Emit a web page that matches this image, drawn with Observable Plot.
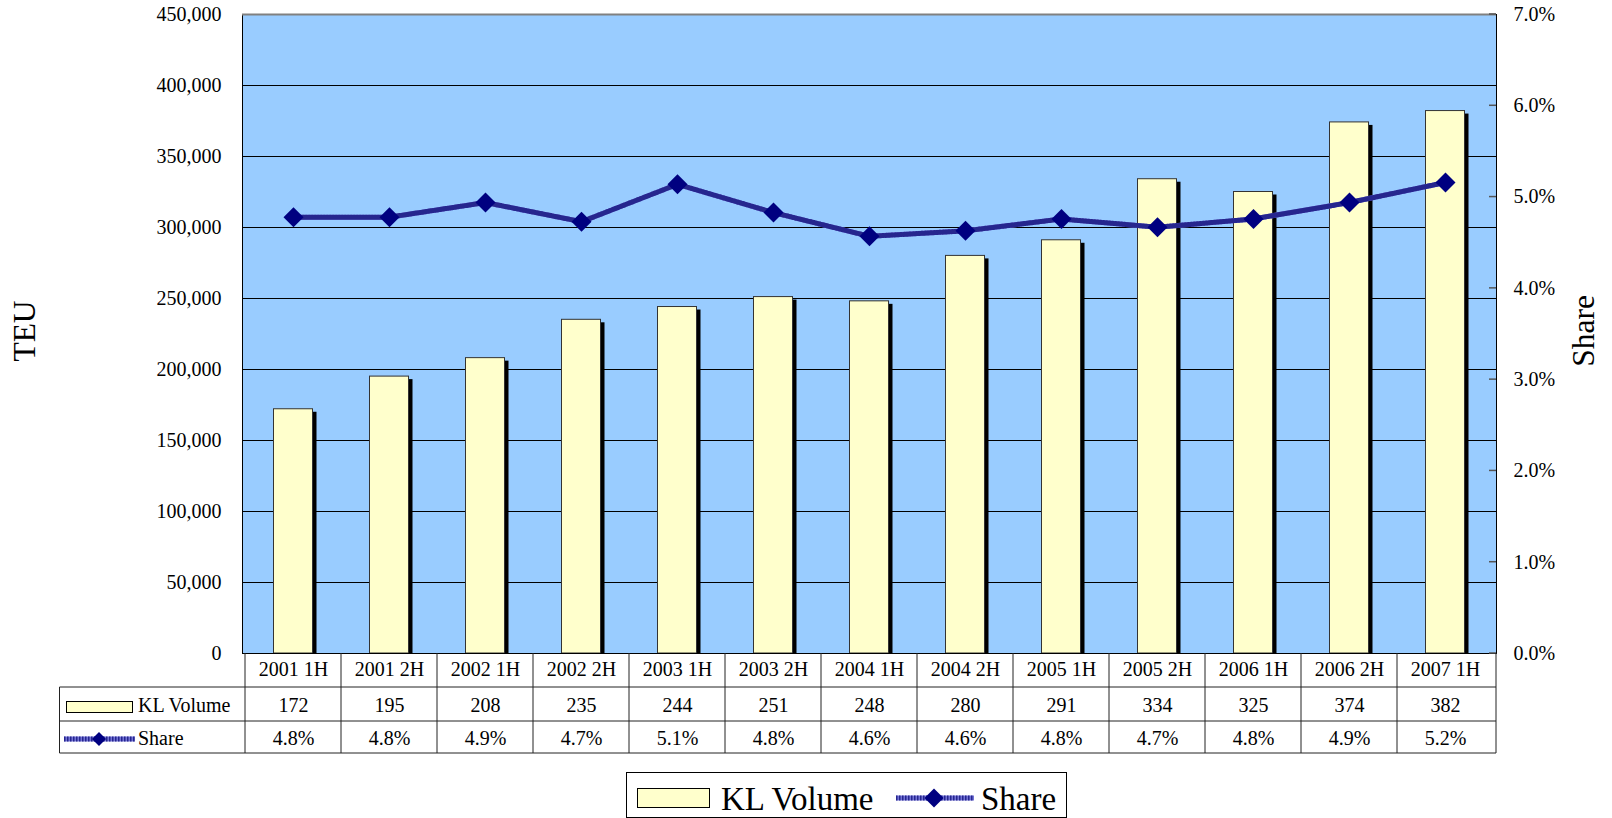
<!DOCTYPE html>
<html><head><meta charset="utf-8">
<script src="https://cdn.jsdelivr.net/npm/d3@7"></script>
<script src="https://cdn.jsdelivr.net/npm/@observablehq/plot@0.6"></script>
<style>
body{margin:0;background:#fff;}
#chart svg{display:block;}
</style>
</head><body><div id="chart"></div>
<script>
const categories = ["2001 1H","2001 2H","2002 1H","2002 2H","2003 1H","2003 2H","2004 1H","2004 2H","2005 1H","2005 2H","2006 1H","2006 2H","2007 1H"];
const volumes = [172000,195000,208000,235000,244000,251000,248000,280000,291000,334000,325000,374000,382000];
const shares = [0.0478,0.0478,0.0494,0.0473,0.0514,0.0483,0.0457,0.0463,0.0476,0.0467,0.0476,0.0494,0.0516];
const volumeTicks = [0,50000,100000,150000,200000,250000,300000,350000,400000,450000];
const shareTicks = [0,0.01,0.02,0.03,0.04,0.05,0.06,0.07];
const seriesNames = ["KL Volume","Share"];
const axisTitles = ["TEU","Share"];

const VOL_MAX = 450000, SHARE_MAX = 0.07;
const toVol = s => s / SHARE_MAX * VOL_MAX;
const pct = d3.format(".1%");
const rows = categories.map((c,i)=>({cat:c, vol:volumes[i], share:shares[i]}));

const FONT = "'Liberation Serif','Times New Roman',serif";
const barInset = 28.5;
const LINE_BASE = "#7272D6", LINE_DASH = "#26268E";

const plot = Plot.plot({
  width:1612, height:818,
  marginLeft:242, marginRight:116, marginTop:14, marginBottom:165,
  style:{fontFamily:FONT, fontSize:"20px", color:"#000", background:"#fff"},
  x:{type:"band", domain:categories, padding:0, axis:null},
  y:{domain:[0,VOL_MAX]},
  marks:[
    Plot.frame({fill:"#99CCFF"}),
    Plot.ruleY(volumeTicks.filter(v=>v>0&&v<VOL_MAX),{stroke:"#000",strokeWidth:1}),
    Plot.barY(rows,{x:"cat",y:"vol",fill:"#000",dx:4,dy:3,insetLeft:barInset,insetRight:barInset,insetBottom:3}),
    Plot.barY(rows,{x:"cat",y:"vol",fill:"#FFFFCC",stroke:"#333",strokeWidth:1,insetLeft:barInset,insetRight:barInset}),
    Plot.lineY(rows,{x:"cat",y:d=>toVol(d.share),stroke:LINE_BASE,strokeWidth:5}),
    Plot.lineY(rows,{x:"cat",y:d=>toVol(d.share),stroke:LINE_DASH,strokeWidth:5,strokeDasharray:"1.5,1.5"}),
    Plot.dot(rows,{x:"cat",y:d=>toVol(d.share),symbol:"diamond2",r:9,fill:"#000080",stroke:"none"}),
    Plot.frame({stroke:"#000"}),
    Plot.ruleY([VOL_MAX],{stroke:"#808080",strokeWidth:2}),
    Plot.axisY(volumeTicks,{anchor:"left",label:null,tickSize:0,tickPadding:21,tickFormat:d3.format(",")}),
    Plot.axisY(shareTicks.map(toVol),{anchor:"right",label:null,tickSize:0,tickPadding:17,tickFormat:v=>pct(v/VOL_MAX*SHARE_MAX)}),
    Plot.text(rows,{x:"cat",text:"cat",frameAnchor:"bottom",dy:22}),
    Plot.text(rows,{x:"cat",text:d=>String(Math.round(d.vol/1000)),frameAnchor:"bottom",dy:58}),
    Plot.text(rows,{x:"cat",text:d=>pct(d.share),frameAnchor:"bottom",dy:91})
  ]
});
document.getElementById("chart").appendChild(plot);

// overlay: table grid, inner ticks, titles, legend
const svg = d3.select(plot);
const xs = plot.scale("x"), ys = plot.scale("y");
const L = xs.range[0], R = xs.range[1], B = ys.apply(0);
const g = svg.append("g");
const line = (x1,y1,x2,y2,c="#222",w=1)=>g.append("line").attr("x1",x1).attr("y1",y1).attr("x2",x2).attr("y2",y2).attr("stroke",c).attr("stroke-width",w);

// right axis inner ticks
shareTicks.forEach(t=>{const y=ys.apply(toVol(t)); line(R-7,y,R,y,"#555",1.5);});

// table grid
const TL = 59.5;
[B+34, B+68, B+100].forEach(y=>line(TL,y,R,y));
line(TL,B+34,TL,B+100);
categories.forEach(c=>{const x=xs.apply(c); line(x,B,x,B+100);});
line(R,B,R,B+100);

function hatchLine(x1,x2,y){
  line(x1,y,x2,y,LINE_BASE,5);
  g.append("line").attr("x1",x1).attr("y1",y).attr("x2",x2).attr("y2",y).attr("stroke",LINE_DASH).attr("stroke-width",5).attr("stroke-dasharray","1.5,1.5");
}
function diamond(cx,cy,h){
  g.append("path").attr("d",`M${cx},${cy-h}L${cx+h},${cy}L${cx},${cy+h}L${cx-h},${cy}Z`).attr("fill","#000080");
}
function label(x,y,txt,size,anchor="start",rot=0){
  g.append("text").attr("transform",`translate(${x},${y}) rotate(${rot})`).attr("dy","0.32em")
   .attr("text-anchor",anchor).attr("font-family",FONT).attr("font-size",size).attr("fill","#000").text(txt);
}

// table row legend keys
g.append("rect").attr("x",66.5).attr("y",B+48.5).attr("width",66).attr("height",11).attr("fill","#FFFFCC").attr("stroke","#000");
label(138,B+53,seriesNames[0],"20px");
hatchLine(64,135,B+86);
diamond(99,B+86,7);
label(138,B+86,seriesNames[1],"20px");

// axis titles
label(25,331,axisTitles[0],"31.5px","middle",-90);
label(1584,331,axisTitles[1],"31.5px","middle",-90);

// bottom legend
g.append("rect").attr("x",626.5).attr("y",772.5).attr("width",440).attr("height",45).attr("fill","#fff").attr("stroke","#000");
g.append("rect").attr("x",637.5).attr("y",788.5).attr("width",72).attr("height",19).attr("fill","#FFFFCC").attr("stroke","#000");
label(721,799,seriesNames[0],"33px");
hatchLine(896,974,798);
diamond(934,798,9.5);
label(981,799,seriesNames[1],"33px");
</script>
</body></html>
